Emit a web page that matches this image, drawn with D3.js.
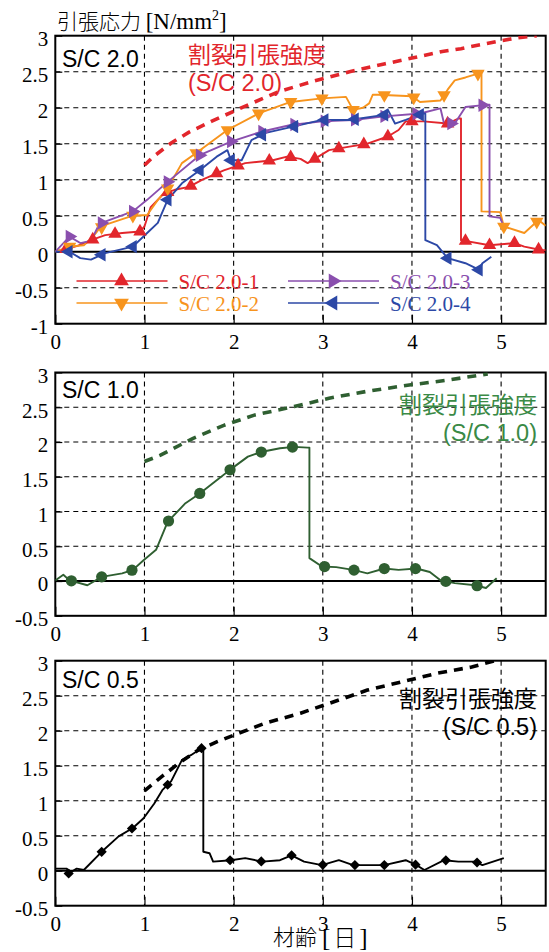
<!DOCTYPE html>
<html>
<head>
<meta charset="utf-8">
<script src="https://cdn.jsdelivr.net/npm/d3@7"></script>
<style>
  body { margin: 0; background: #fff; }
  svg { display: block; }
</style>
</head>
<body>
<svg id="chart" width="549" height="952"></svg>
<script>
// ---- axis ticks ----
const xTicks = [0, 1, 2, 3, 4, 5];
const yTicksTop = [-1, -0.5, 0, 0.5, 1, 1.5, 2, 2.5, 3];
const yTicksLow = [-0.5, 0, 0.5, 1, 1.5, 2, 2.5, 3];

// ---- legend labels ----
const seriesNames = ["S/C 2.0-1", "S/C 2.0-2", "S/C 2.0-3", "S/C 2.0-4"];
const panelNames = ["S/C 2.0", "S/C 1.0", "S/C 0.5"];
const strengthTitle = "割裂引張強度";
const strengthNames = ["(S/C 2.0)", "(S/C 1.0)", "(S/C 0.5)"];

// ---- measured tensile stress [N/mm2] vs age [day] ----
const sc20_1 = [[0,0],[0.1,0.03],[0.25,0.08],[0.4,0.16],[0.56,0.23],[0.75,0.26],[0.95,0.28],[1.0,0.35],[1.07,0.62],[1.22,0.81],[1.34,0.86],[1.5,0.9],[1.65,1.0],[1.89,1.13],[2.13,1.23],[2.44,1.27],[2.6,1.32],[2.75,1.29],[2.83,1.23],[2.95,1.32],[3.07,1.41],[3.3,1.46],[3.5,1.5],[3.73,1.6],[3.85,1.69],[3.93,1.81],[4.13,1.81],[4.4,1.78],[4.52,1.85],[4.55,1.85],[4.55,0.16],[4.87,0.09],[5.15,0.12],[5.26,0.07],[5.46,0.02],[5.5,0.02]];
const sc20_2 = [[0,0],[0.16,0.07],[0.32,0.09],[0.42,0.2],[0.48,0.3],[0.55,0.37],[0.87,0.5],[1.03,0.51],[1.15,0.72],[1.26,0.88],[1.42,1.23],[1.58,1.37],[1.93,1.69],[2.28,1.92],[2.64,2.08],[2.99,2.13],[3.26,2.15],[3.34,1.97],[3.45,2.0],[3.52,2.06],[3.56,2.18],[3.62,2.18],[4.0,2.16],[4.09,2.08],[4.32,2.1],[4.4,2.25],[4.48,2.38],[4.6,2.42],[4.76,2.48],[4.78,2.48],[4.78,0.56],[4.99,0.55],[5.03,0.35],[5.26,0.26],[5.42,0.44],[5.5,0.36]];
const sc20_3 = [[0,0],[0.16,0.21],[0.28,0.12],[0.4,0.15],[0.48,0.35],[0.52,0.4],[0.87,0.56],[1.03,0.72],[1.26,0.97],[1.62,1.34],[1.97,1.53],[2.32,1.67],[2.64,1.76],[2.99,1.81],[3.34,1.83],[3.69,1.88],[4.09,1.92],[4.32,1.99],[4.36,1.78],[4.48,1.78],[4.6,2.01],[4.83,2.04],[4.87,2.04],[4.87,0.49],[4.99,0.47],[5.03,0.35],[5.06,0.32]];
const sc20_4 = [[0,0],[0.16,0.0],[0.28,-0.09],[0.4,-0.11],[0.56,-0.02],[0.87,0.07],[1.03,0.26],[1.15,0.4],[1.18,0.49],[1.26,0.72],[1.42,0.95],[1.62,1.13],[1.81,1.32],[1.93,1.41],[1.97,1.27],[2.09,1.27],[2.2,1.55],[2.36,1.65],[2.68,1.74],[2.99,1.83],[3.3,1.83],[3.69,1.9],[3.73,1.97],[3.81,1.78],[3.93,1.83],[4.13,1.92],[4.15,1.92],[4.15,0.16],[4.28,0.09],[4.4,-0.09],[4.6,-0.16],[4.75,-0.25],[4.79,-0.16],[4.89,-0.07]];
const sc10 = [[0,0.01],[0.09,0.09],[0.16,0.01],[0.36,-0.06],[0.52,0.06],[0.75,0.11],[0.87,0.16],[0.99,0.3],[1.13,0.45],[1.26,0.85],[1.46,1.12],[1.62,1.26],[1.81,1.45],[1.97,1.61],[2.16,1.79],[2.32,1.86],[2.52,1.91],[2.68,1.93],[2.83,1.92],[2.85,1.92],[2.85,0.33],[2.99,0.21],[3.15,0.2],[3.34,0.16],[3.5,0.11],[3.69,0.18],[3.85,0.16],[4.05,0.18],[4.2,0.13],[4.32,0.01],[4.48,-0.03],[4.71,-0.06],[4.83,-0.1],[4.95,0.04]];
const sc05 = [[0,0.03],[0.13,0.03],[0.15,-0.04],[0.24,0.03],[0.32,0.01],[0.52,0.27],[0.71,0.49],[0.87,0.61],[0.99,0.75],[1.11,0.96],[1.2,1.15],[1.3,1.28],[1.42,1.58],[1.52,1.65],[1.64,1.75],[1.66,1.75],[1.66,0.27],[1.73,0.25],[1.77,0.13],[1.97,0.15],[2.13,0.18],[2.32,0.13],[2.52,0.15],[2.65,0.22],[2.79,0.13],[2.99,0.08],[3.18,0.15],[3.34,0.08],[3.54,0.08],[3.69,0.08],[3.93,0.15],[4.05,0.08],[4.14,0.01],[4.36,0.15],[4.52,0.13],[4.71,0.13],[4.79,0.08],[5.03,0.18]];

// ---- splitting tensile strength curves ----
const str20 = [[1.0,1.2],[1.1,1.32],[1.3,1.51],[1.5,1.66],[1.75,1.81],[2.0,1.95],[2.2,2.06],[2.5,2.22],[2.9,2.37],[3.3,2.5],[3.7,2.61],[4.0,2.69],[4.34,2.78],[4.55,2.82],[4.75,2.87],[4.95,2.92],[5.18,2.97],[5.4,3.0]];
const str10 = [[1.0,1.72],[1.18,1.81],[1.54,2.05],[1.89,2.24],[2.24,2.39],[2.68,2.51],[3.07,2.63],[3.5,2.73],[3.97,2.82],[4.4,2.89],[4.85,2.98]];
const str05 = [[1.0,1.14],[1.2,1.35],[1.4,1.55],[1.6,1.72],[1.81,1.84],[2.05,1.96],[2.36,2.11],[2.75,2.25],[3.07,2.39],[3.5,2.58],[3.89,2.7],[4.28,2.82],[4.67,2.91],[4.93,3.0]];

// ---- marker ages [day] along each record ----
const mk20_1 = [0.12,0.42,0.67,0.95,1.26,1.52,1.81,2.05,2.4,2.64,2.91,3.18,3.46,3.73,4.0,4.4,4.6,4.87,5.15,5.42];
const mk20_2 = [0.16,0.52,0.87,1.26,1.58,1.93,2.28,2.64,2.99,3.34,3.69,4.02,4.36,4.74,5.03,5.4];
const mk20_3 = [0.16,0.52,0.87,1.26,1.62,1.97,2.32,2.68,3.02,3.36,3.69,4.05,4.44,4.79];
const mk20_4 = [0.15,0.52,0.87,1.26,1.62,1.97,2.32,2.68,3.02,3.36,3.69,4.09,4.4,4.75];
const mk10 = [0.18,0.52,0.86,1.27,1.62,1.96,2.31,2.66,3.02,3.35,3.69,4.04,4.38,4.73];
const mk05 = [0.15,0.52,0.86,1.26,1.64,1.96,2.31,2.65,3.0,3.36,3.69,4.04,4.38,4.73];

// ---- styling ----
const SERIF = "'Liberation Serif', 'Times New Roman', serif";
const SANS = "'Liberation Sans', Arial, sans-serif";
const CJK = "'Noto Sans CJK JP', 'Noto Sans CJK SC', sans-serif";
const RED = "#e2262c", ORANGE = "#f7941d", PURPLE = "#8a4fae", BLUE = "#2c48a6";
const GREEN = "#2f5f31", GREEN_TXT = "#3a8a46", BLACK = "#000";

const svg = d3.select("#chart");
const X0 = 55.3, X1 = 545.7;
const x = d3.scaleLinear().domain([0, 5.5]).range([X0, X1]);

// value of a record at a given age (first matching segment)
function valueAt(data, t) {
  for (let i = 0; i < data.length - 1; i++) {
    const [a, ya] = data[i], [b, yb] = data[i + 1];
    if (t >= a && t <= b && b > a) return ya + (yb - ya) * (t - a) / (b - a);
  }
  return data[data.length - 1][1];
}

const triangle = d3.symbol().type(d3.symbolTriangle).size(78)();
const square = d3.symbol().type(d3.symbolSquare).size(52)();

function panel(idx, top, bottom, ymin, yTicks) {
  const y = d3.scaleLinear().domain([ymin, 3]).range([bottom, top]);
  const g = svg.append("g");
  const clipId = "clip" + idx;
  g.append("clipPath").attr("id", clipId)
    .append("rect").attr("x", X0).attr("y", top).attr("width", X1 - X0).attr("height", bottom - top);

  // dashed grid
  const grid = g.append("g").attr("stroke", "#000").attr("stroke-width", 1.1).attr("stroke-dasharray", "5,4");
  grid.selectAll("line.v").data(xTicks.filter(d => d > 0)).join("line")
    .attr("x1", d => x(d)).attr("x2", d => x(d)).attr("y1", top).attr("y2", bottom);
  grid.selectAll("line.h").data(yTicks.filter(d => d !== 0 && d > ymin && d < 3)).join("line")
    .attr("x1", X0).attr("x2", X1).attr("y1", d => y(d)).attr("y2", d => y(d));

  // zero line
  g.append("line").attr("x1", X0).attr("x2", X1).attr("y1", y(0)).attr("y2", y(0))
    .attr("stroke", "#000").attr("stroke-width", 2);

  // axes with inward ticks
  const ax = g.append("g").attr("transform", `translate(0,${bottom})`)
    .call(d3.axisBottom(x).tickValues(xTicks).tickSize(-9).tickPadding(10).tickFormat(d => String(d)));
  const ay = g.append("g").attr("transform", `translate(${X0},0)`)
    .call(d3.axisLeft(y).tickValues(yTicks).tickSize(-7).tickPadding(7).tickFormat(d => String(d)));
  [ax, ay].forEach(a => {
    a.select(".domain").remove();
    a.selectAll("line").attr("stroke", "#000").attr("stroke-width", 1.2);
    a.selectAll("text").attr("font-family", SERIF).attr("font-size", 21).attr("fill", "#000");
  });
  ay.selectAll("text").attr("dy", "0.47em");

  // frame
  g.append("rect").attr("x", X0).attr("y", top).attr("width", X1 - X0).attr("height", bottom - top)
    .attr("fill", "none").attr("stroke", "#000").attr("stroke-width", 2);

  const plot = g.append("g").attr("clip-path", `url(#${clipId})`);
  return { y, g, plot };
}

const line = (y) => d3.line().x(d => x(d[0])).y(d => y(d[1]));

function drawRecord(p, data, color, width) {
  p.plot.append("path").datum(data).attr("d", line(p.y)).attr("fill", "none")
    .attr("stroke", color).attr("stroke-width", width).attr("stroke-linejoin", "round");
}
function drawStrength(p, data, color) {
  p.plot.append("path").datum(data).attr("d", line(p.y)).attr("fill", "none")
    .attr("stroke", color).attr("stroke-width", 3.6).attr("stroke-dasharray", "9,7");
}
function drawMarkers(p, data, ages, color, shape, rot) {
  p.plot.append("g").selectAll("path").data(ages).join("path")
    .attr("d", shape).attr("fill", color)
    .attr("transform", t => `translate(${x(t)},${p.y(valueAt(data, t))}) rotate(${rot})`);
}

// ===== Panel 1 : S/C 2.0 =====
const p1 = panel(1, 35.7, 323.7, -1, yTicksTop);
const recs = [
  { data: sc20_1, mk: mk20_1, color: RED, rot: 0 },
  { data: sc20_2, mk: mk20_2, color: ORANGE, rot: 180 },
  { data: sc20_3, mk: mk20_3, color: PURPLE, rot: 90 },
  { data: sc20_4, mk: mk20_4, color: BLUE, rot: -90 }
];
drawStrength(p1, str20, RED);
recs.forEach(r => drawRecord(p1, r.data, r.color, 1.9));
recs.forEach(r => drawMarkers(p1, r.data, r.mk, r.color, triangle, r.rot));

// legend
const legPos = [[76.5, 281], [76.5, 303], [288, 281], [288, 303]];
recs.forEach((r, i) => {
  const [lx, ly] = legPos[i];
  const lg = p1.g.append("g");
  lg.append("line").attr("x1", lx).attr("x2", lx + 91).attr("y1", ly).attr("y2", ly)
    .attr("stroke", r.color).attr("stroke-width", 1.6);
  lg.append("path").attr("d", triangle).attr("fill", r.color)
    .attr("transform", `translate(${lx + 45},${ly}) rotate(${r.rot}) scale(1.1)`);
  lg.append("text").attr("x", lx + 102).attr("y", ly + 7.5).text(seriesNames[i])
    .attr("font-family", SERIF).attr("font-size", 21).attr("fill", r.color);
});

// ===== Panel 2 : S/C 1.0 =====
const p2 = panel(2, 372.5, 615.8, -0.5, yTicksLow);
drawStrength(p2, str10, GREEN);
drawRecord(p2, sc10, GREEN, 1.9);
p2.plot.append("g").selectAll("circle").data(mk10).join("circle")
  .attr("cx", t => x(t)).attr("cy", t => p2.y(valueAt(sc10, t))).attr("r", 5.6).attr("fill", GREEN);

// ===== Panel 3 : S/C 0.5 =====
const p3 = panel(3, 660.7, 905.7, -0.5, yTicksLow);
drawStrength(p3, str05, BLACK);
drawRecord(p3, sc05, BLACK, 1.9);
drawMarkers(p3, sc05, mk05, BLACK, square, 45);

// panel captions
[[p1, 66.7], [p2, 398], [p3, 688]].forEach(([p, by], i) => {
  p.g.append("text").attr("x", 62).attr("y", by).text(panelNames[i])
    .attr("font-family", SANS).attr("font-size", 23).attr("fill", "#000");
});

// strength curve labels
function strengthLabel(p, lx, y1, y2, anchor, color, name) {
  const t = p.g.append("g").attr("fill", color).attr("text-anchor", anchor);
  t.append("text").attr("x", lx).attr("y", y1).text(strengthTitle)
    .attr("font-family", CJK).attr("font-size", 23);
  t.append("text").attr("x", lx).attr("y", y2).text(name)
    .attr("font-family", SANS).attr("font-size", 23.5);
}
strengthLabel(p1, 188, 63, 91, "start", RED, strengthNames[0]);
strengthLabel(p2, 537, 413, 441, "end", GREEN_TXT, strengthNames[1]);
strengthLabel(p3, 537, 707, 735, "end", BLACK, strengthNames[2]);

// axis titles
const yt = svg.append("text").attr("x", 57).attr("y", 29).attr("fill", "#000");
yt.append("tspan").attr("font-family", CJK).attr("font-size", 21).attr("font-weight", 300).text("引張応力 ");
yt.append("tspan").attr("font-family", SERIF).attr("font-size", 23).text("[N/mm");
yt.append("tspan").attr("font-family", SERIF).attr("font-size", 14).attr("dy", -9).text("2");
yt.append("tspan").attr("font-family", SERIF).attr("font-size", 23).attr("dy", 9).text("]");

svg.append("text").attr("x", 273).attr("y", 945).attr("fill", "#000")
  .attr("font-family", CJK).attr("font-size", 22).attr("font-weight", 300).text("材齢");
const xu = svg.append("text").attr("x", 322).attr("y", 946).attr("fill", "#000");
xu.append("tspan").attr("font-family", SERIF).attr("font-size", 25).text("[");
xu.append("tspan").attr("font-family", CJK).attr("font-size", 23).attr("font-weight", 300).attr("dx", 3).text("日");
xu.append("tspan").attr("font-family", SERIF).attr("font-size", 25).attr("dx", 3).text("]");
</script>
</body>
</html>
